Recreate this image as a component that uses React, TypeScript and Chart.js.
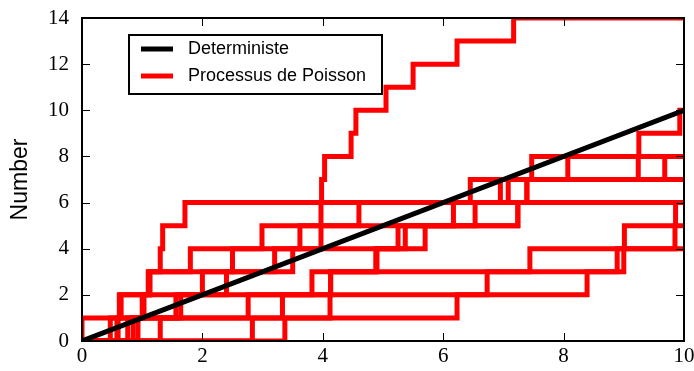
import React, { useEffect, useRef } from "react";
import { Chart, registerables } from "chart.js";

Chart.register(...registerables);

const xTicks = [0, 2, 4, 6, 8, 10];
const yTicks = [0, 2, 4, 6, 8, 10, 12, 14];
const xMax = 10;
const yMax = 14;

const deterministicX = [0, 10];
const deterministicY = [0, 10];

// jump times of each simulated Poisson process (each jump = +1)
const poissonA = [0.6, 0.62, 1.1, 1.8, 3.97, 3.97, 3.98, 4.03, 4.47, 4.55, 5.05, 5.5, 6.23, 7.17];
const poissonB = [0.58, 0.65, 1.13, 1.3, 1.34, 1.71, 6.45, 9.24, 9.25, 9.93];
const poissonC = [0.76, 1.0, 2.0, 2.5, 2.99, 6.17, 6.95, 8.07];
const poissonD = [0.93, 1.56, 2.4, 3.2, 3.62, 4.6, 7.08, 7.47];
const poissonE = [0.0, 6.23, 8.39, 8.89, 9.85, 9.86];
const poissonF = [0.47, 1.64, 4.13, 9.0, 9.01];
const poissonG = [1.3, 2.76, 3.82, 4.9, 5.7, 7.24, 7.39];
const poissonH = [0.85, 1.03, 1.12, 3.5, 5.25, 6.53];
const poissonI = [2.83, 3.33, 6.73, 7.44];
const poissonJ = [3.37, 4.12, 4.13, 4.88, 5.37, 7.24, 7.39, 9.68];

const poissonRuns = [poissonA, poissonB, poissonC, poissonD, poissonE, poissonF, poissonG, poissonH, poissonI, poissonJ];

const legendLabels = ["Deterministe", "Processus de Poisson"];
const yTitle = "Number";

function toSteps(jumps: number[]) {
  const pts: { x: number; y: number }[] = [{ x: 0, y: 0 }];
  jumps.forEach((t, i) => pts.push({ x: t, y: i + 1 }));
  pts.push({ x: xMax, y: jumps.length });
  return pts;
}

const framePlugin = {
  id: "framePlugin",
  afterDraw(chart: any) {
    const { ctx, chartArea } = chart;
    const { left, right, top, bottom } = chartArea;
    const xs = chart.scales.x;
    const ys = chart.scales.y;
    ctx.save();
    ctx.strokeStyle = "#000";
    ctx.lineWidth = 1;
    const tl = 8;
    ctx.beginPath();
    xTicks.forEach((v) => {
      const px = Math.round(xs.getPixelForValue(v)) + 0.5;
      ctx.moveTo(px, bottom);
      ctx.lineTo(px, bottom - tl);
      ctx.moveTo(px, top);
      ctx.lineTo(px, top + tl);
    });
    yTicks.forEach((v) => {
      const py = Math.round(ys.getPixelForValue(v)) + 0.5;
      ctx.moveTo(left, py);
      ctx.lineTo(left + tl, py);
      ctx.moveTo(right, py);
      ctx.lineTo(right - tl, py);
    });
    ctx.stroke();
    ctx.lineWidth = 2;
    ctx.strokeRect(left, top, right - left, bottom - top);

    // legend
    const bx = left + 47;
    const by = top + 17;
    const bw = 253;
    const bh = 59;
    ctx.fillStyle = "#fff";
    ctx.fillRect(bx, by, bw, bh);
    ctx.lineWidth = 2;
    ctx.strokeStyle = "#000";
    ctx.strokeRect(bx, by, bw, bh);
    const ds = chart.data.datasets;
    const colors = [ds[0].borderColor, ds[1].borderColor];
    ctx.font = "18px 'Liberation Sans', Arial, sans-serif";
    ctx.textBaseline = "middle";
    ctx.textAlign = "left";
    legendLabels.forEach((lab, i) => {
      const ry = by + 14 + i * 27;
      ctx.strokeStyle = colors[i];
      ctx.lineWidth = 5;
      ctx.lineCap = "butt";
      ctx.beginPath();
      ctx.moveTo(bx + 12, ry);
      ctx.lineTo(bx + 44, ry);
      ctx.stroke();
      ctx.fillStyle = "#000";
      ctx.fillText(lab, bx + 59, ry);
    });
    ctx.restore();
  },
};

function noOverflow(scale: any) {
  scale.paddingTop = 0;
  scale.paddingBottom = 0;
  scale.paddingLeft = 0;
  scale.paddingRight = 0;
}

export default function App() {
  const ref = useRef<HTMLCanvasElement | null>(null);

  useEffect(() => {
    if (!ref.current) return;
    const datasets: any[] = [
      {
        label: legendLabels[0],
        data: deterministicX.map((x, i) => ({ x, y: deterministicY[i] })),
        borderColor: "#000000",
        borderWidth: 5,
        pointRadius: 0,
        fill: false,
        clip: 0,
      },
    ];
    poissonRuns.forEach((run, i) => {
      datasets.push({
        label: i === 0 ? legendLabels[1] : legendLabels[1] + " " + (i + 1),
        data: toSteps(run),
        borderColor: "#ff0000",
        borderWidth: 5,
        pointRadius: 0,
        stepped: "before",
        fill: false,
        borderJoinStyle: "miter",
        borderCapStyle: "butt",
        clip: 0,
      });
    });

    const chart = new Chart(ref.current, {
      type: "line",
      data: { datasets },
      options: {
        animation: false,
        responsive: false,
        layout: { padding: { left: 0, right: 10, top: 18, bottom: 0 } },
        plugins: { legend: { display: false }, tooltip: { enabled: false } },
        scales: {
          x: {
            type: "linear",
            min: 0,
            max: xMax,
            afterBuildTicks: (scale: any) => {
              scale.ticks = xTicks.map((v) => ({ value: v }));
            },
            ticks: {
              color: "#000",
              font: { family: "'Liberation Serif', 'DejaVu Serif', serif", size: 21 },
              padding: 3,
              maxRotation: 0,
              autoSkip: false,
            },
            grid: { display: false, drawTicks: false },
            border: { display: false },
            afterFit: (scale: any) => {
              scale.height = 30;
              noOverflow(scale);
            },
          },
          y: {
            type: "linear",
            min: 0,
            max: yMax,
            afterBuildTicks: (scale: any) => {
              scale.ticks = yTicks.map((v) => ({ value: v }));
            },
            ticks: {
              color: "#000",
              font: { family: "'Liberation Serif', 'DejaVu Serif', serif", size: 21 },
              padding: 13,
              autoSkip: false,
            },
            title: {
              display: true,
              text: yTitle,
              color: "#000",
              font: { family: "'Liberation Sans', Arial, sans-serif", size: 23 },
              padding: { top: 7, bottom: 0 },
            },
            grid: { display: false, drawTicks: false },
            border: { display: false },
            afterFit: (scale: any) => {
              scale.width = 82;
              noOverflow(scale);
            },
          },
        },
      },
      plugins: [framePlugin],
    });
    return () => chart.destroy();
  }, []);

  return (
    <div style={{ position: "fixed", left: 0, top: 0, width: 694, height: 371, background: "#fff" }}>
      <canvas ref={ref} width={694} height={371} style={{ width: 694, height: 371, display: "block" }} />
    </div>
  );
}
